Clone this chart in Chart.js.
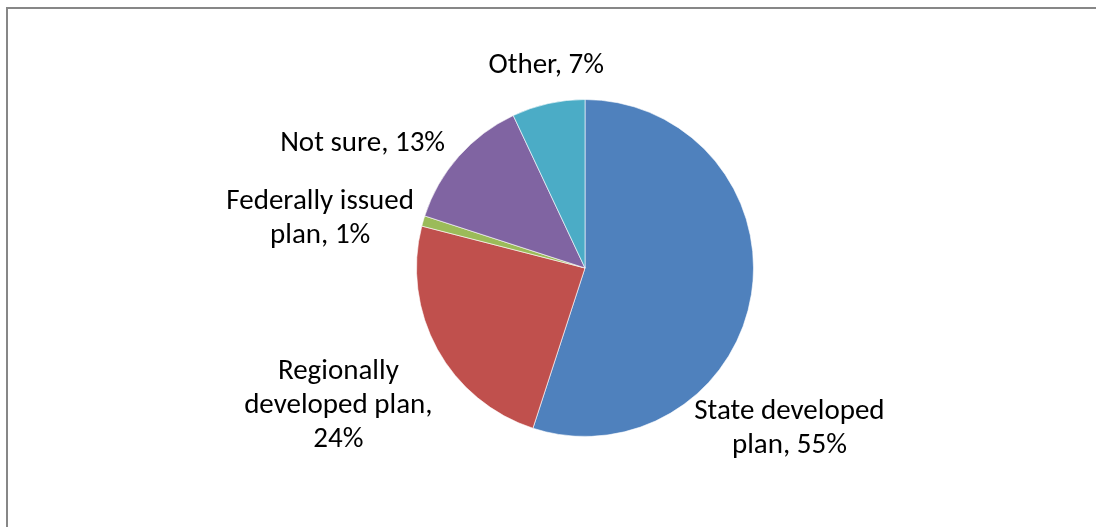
<!DOCTYPE html>
<html>
<head>
<meta charset="utf-8">
<script src="https://cdn.jsdelivr.net/npm/chart.js@4.4.1/dist/chart.umd.min.js"></script>
<style>
  html, body { margin: 0; padding: 0; background: #fff; overflow: hidden; }
  canvas { display: block; }
</style>
</head>
<body>
<canvas id="c" width="1096" height="527"></canvas>
<script>
// Share of respondents by type of plan
const categories = ['State developed plan', 'Regionally developed plan', 'Federally issued plan', 'Not sure', 'Other'];
const values = [55, 24, 1, 13, 7];
const sliceColors = ['#4F81BD', '#C0504D', '#9BBB59', '#8064A2', '#4BACC6'];
// Label text broken into lines
const labelLines = [
  ['State developed', 'plan, 55%'],
  ['Regionally', 'developed plan,', '24%'],
  ['Federally issued', 'plan, 1%'],
  ['Not sure, 13%'],
  ['Other, 7%']
];
// Label shift from the slice's outer mid-point
const labelShift = [[38, 134], [-99, 57], [-103, -2], [-96, -13], [-2, -38]];

const FONT = '"Carlito", "Lato", "Open Sans", sans-serif';

// Chart-area frame: only the top and left edges fall inside the page
const frame = {
  id: 'frame',
  beforeDraw(chart) {
    const ctx = chart.ctx;
    ctx.save();
    ctx.strokeStyle = '#878787';
    ctx.lineWidth = 2;
    ctx.beginPath();
    ctx.moveTo(7, chart.height + 5);
    ctx.lineTo(7, 8);
    ctx.lineTo(chart.width + 5, 8);
    ctx.stroke();
    ctx.restore();
  }
};

const outsideLabels = {
  id: 'outsideLabels',
  afterDatasetsDraw(chart) {
    const ctx = chart.ctx;
    const meta = chart.getDatasetMeta(0);
    ctx.save();
    ctx.fillStyle = '#000';
    ctx.font = '29px ' + FONT;
    ctx.textAlign = 'center';
    ctx.textBaseline = 'middle';
    const lh = 34;
    meta.data.forEach((arc, i) => {
      const p = arc.getProps(['x', 'y', 'startAngle', 'endAngle', 'outerRadius'], true);
      const mid = (p.startAngle + p.endAngle) / 2;
      const ax = p.x + Math.cos(mid) * p.outerRadius + labelShift[i][0];
      const ay = p.y + Math.sin(mid) * p.outerRadius + labelShift[i][1];
      const lines = labelLines[i];
      const top = ay - (lines.length - 1) * lh / 2;
      lines.forEach((t, k) => ctx.fillText(t, ax, top + k * lh));
    });
    ctx.restore();
  }
};

new Chart(document.getElementById('c'), {
  type: 'pie',
  data: {
    labels: categories,
    datasets: [{
      data: values,
      backgroundColor: sliceColors,
      borderColor: 'rgba(255,255,255,0.6)',
      borderWidth: 1
    }]
  },
  options: {
    responsive: false,
    animation: false,
    layout: { padding: { left: 416, right: 342, top: 99, bottom: 90 } },
    plugins: {
      legend: { display: false },
      tooltip: { enabled: false }
    }
  },
  plugins: [frame, outsideLabels]
});
</script>
</body>
</html>
